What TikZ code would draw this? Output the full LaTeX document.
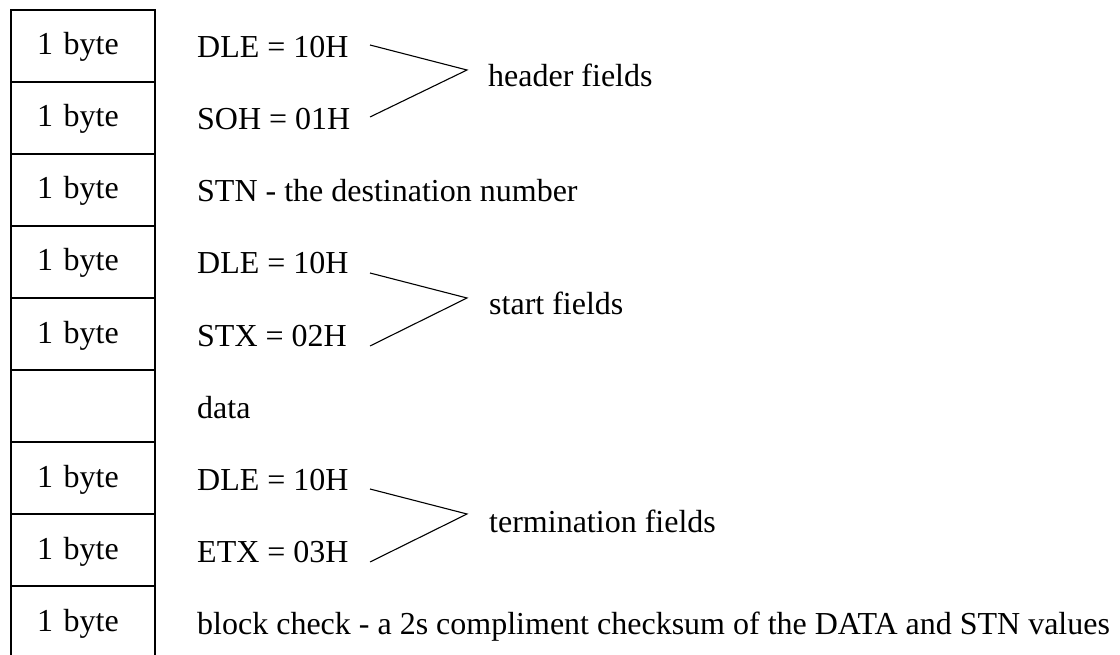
\documentclass[tikz,border=0pt]{standalone}
\usepackage{fontspec}
\setmainfont{Liberation Serif}
\usetikzlibrary{positioning}

\begin{document}
\begin{tikzpicture}[
    x=1pt, y=-1pt,
    font=\fontsize{32}{36}\selectfont,
    cell/.style={rectangle, draw=black, line width=1.6pt, minimum width=144pt, minimum height=72pt,
                 text width=92pt, inner xsep=26pt, inner ysep=0pt, align=left,
                 text height=22pt, text depth=4pt},
    field/.style={anchor=base west, inner sep=0pt},
    group/.style={anchor=base west, inner sep=0pt},
    brace/.style={line width=1.1pt, line join=miter}
]
\useasboundingbox (0,0) rectangle (1120,655);
% byte cells
\node[cell] (cdle1) at (83,46) {1 byte};
\node[cell] (csoh) at (83,118) {1 byte};
\node[cell] (cstn) at (83,190) {1 byte};
\node[cell] (cdle2) at (83,262) {1 byte};
\node[cell] (cstx) at (83,334) {1 byte};
\node[cell] (cdata) at (83,406) {};
\node[cell] (cdle3) at (83,478) {1 byte};
\node[cell] (cetx) at (83,550) {1 byte};
\node[cell] (cbcc) at (83,622) {1 byte};
% field names
\node[field] (dle1) at (197,58) {DLE = 10H};
\node[field] (soh) at (197,130) {SOH = 01H};
\node[field] (stn) at (197,202) {STN - the destination number};
\node[field] (dle2) at (197,274) {DLE = 10H};
\node[field] (stx) at (197,346) {STX = 02H};
\node[field] (data) at (197,418) {data};
\node[field] (dle3) at (197,490) {DLE = 10H};
\node[field] (etx) at (197,562) {ETX = 03H};
\node[field] (bcc) at (197,634) {block check - a 2s compliment checksum of the DATA and STN values};
% groups
\coordinate (hdrtop) at (370,45);
\coordinate (hdrtip) at (467,70);
\coordinate (hdrbot) at (370,117);
\coordinate (sttop) at (370,273);
\coordinate (sttip) at (467,298);
\coordinate (stbot) at (370,346);
\coordinate (trmtop) at (370,489);
\coordinate (trmtip) at (467,514);
\coordinate (trmbot) at (370,562);
\draw[brace] (hdrtop) -- (hdrtip) -- (hdrbot);
\draw[brace] (sttop) -- (sttip) -- (stbot);
\draw[brace] (trmtop) -- (trmtip) -- (trmbot);
\node[group] (hdr) at (488,87) {header fields};
\node[group] (st) at (489,315) {start fields};
\node[group] (trm) at (489,532) {termination fields};
\end{tikzpicture}
\end{document}
